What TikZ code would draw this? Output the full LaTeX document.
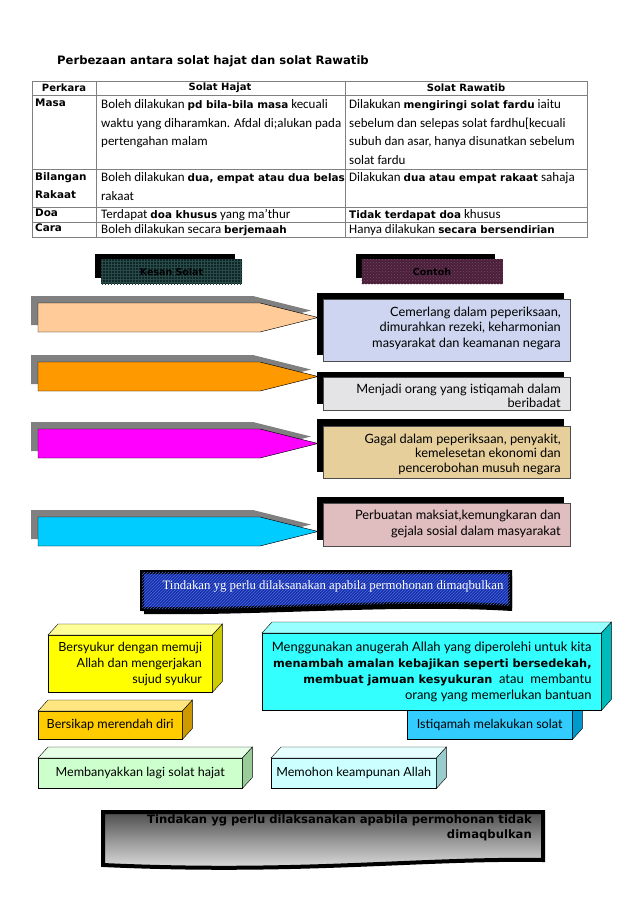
\documentclass[tikz,border=0pt]{standalone}
\usepackage{fontspec}
\setmainfont{Carlito}
\newfontfamily\tahoma{DejaVu Sans}
\newfontfamily\gill{Lato}
\newfontfamily\tnr{Liberation Serif}
\usetikzlibrary{patterns}

\definecolor{peachA}{HTML}{FFCC99}
\definecolor{orangeA}{HTML}{FF9900}
\definecolor{magentaA}{HTML}{FF00FF}
\definecolor{skyA}{HTML}{00CCFF}
\definecolor{shadowA}{HTML}{808080}
\definecolor{marbleA}{HTML}{CDD5F0}
\definecolor{marbleB}{HTML}{E4E4E6}
\definecolor{marbleC}{HTML}{E6CF9B}
\definecolor{marbleD}{HTML}{E0BDBF}
\definecolor{tealdark}{HTML}{0E2626}
\definecolor{tealgrid}{HTML}{2A4A4A}
\definecolor{maroonA}{HTML}{4A1F3A}
\definecolor{maroonB}{HTML}{7A4A68}
\definecolor{bannerblue}{HTML}{1530A8}
\definecolor{bannerline}{HTML}{4A68E0}
\definecolor{yellowF}{HTML}{FFFF00}
\definecolor{yellowT}{HTML}{FFFF99}
\definecolor{yellowS}{HTML}{CCCC00}
\definecolor{cyanF}{HTML}{33FFFF}
\definecolor{cyanT}{HTML}{99FFFF}
\definecolor{cyanS}{HTML}{00BBBB}
\definecolor{istiF}{HTML}{33CCFF}
\definecolor{istiT}{HTML}{99E6FF}
\definecolor{istiS}{HTML}{0099CC}
\definecolor{goldF}{HTML}{FFCC00}
\definecolor{goldT}{HTML}{FFE680}
\definecolor{goldS}{HTML}{CC9900}
\definecolor{mintF}{HTML}{CCFFCC}
\definecolor{mintT}{HTML}{E6FFE6}
\definecolor{mintS}{HTML}{99CC99}
\definecolor{iceF}{HTML}{CCFFFF}
\definecolor{iceT}{HTML}{E6FFFF}
\definecolor{iceS}{HTML}{99CCCC}

\newcommand{\hb}[1]{{\tahoma\bfseries\fontsize{10.4}{12}\selectfont #1}}
\newcommand{\kubus}[3]{%
  \filldraw[fill=#2, draw=black, thin] (#1.north west) -- ++(10,-11) -- ([shift={(10,-11)}]#1.north east) -- (#1.north east) -- cycle;
  \filldraw[fill=#3, draw=black, thin] (#1.north east) -- ++(10,-11) -- ([shift={(10,-11)}]#1.south east) -- (#1.south east) -- cycle;
}

\tikzset{
  cell/.style={anchor=north west, inner sep=0pt, align=left, font=\fontsize{13}{18.8}\selectfont},
  hd/.style={inner sep=0pt, font=\tahoma\bfseries\fontsize{10}{12}\selectfont},
  headbox/.style={minimum width=141, minimum height=25, inner sep=0pt, font=\tahoma\bfseries\fontsize{9.5}{10}\selectfont},
  contoh/.style={anchor=north west, draw=black!70, minimum width=247, inner sep=0pt},
  contohtext/.style={anchor=north east, inner sep=0pt, align=right, font=\gill\fontsize{12.8}{15.5}\selectfont},
  cube/.style={anchor=north west, draw=black, thin, inner sep=0pt, align=right, font=\gill\fontsize{12.6}{15.8}\selectfont},
}

\begin{document}
\begin{tikzpicture}[x=1pt, y=-1pt]
    \useasboundingbox (0,0) rectangle (638,903);

    % Title
    \node[anchor=west, inner sep=0pt, font=\tahoma\bfseries\fontsize{11.6}{13}\selectfont] (judul) at (57,61) {Perbezaan antara solat hajat dan solat Rawatib};

    % Table
    \draw[black!50, line width=0.9pt] (32,81) rectangle (587,237);
    \foreach \y in {95,169,207,222} \draw[black!50, line width=0.9pt] (32,\y) -- (587,\y);
    \foreach \x in {96,345} \draw[black!50, line width=0.9pt] (\x,81) -- (\x,237);

    \node[hd] (hPerkara) at (64,88) {Perkara};
    \node[hd] (hHajat) at (220,88) {Solat Hajat};
    \node[hd] (hRawatib) at (466,88) {Solat Rawatib};

    \node[cell] (masa) at (35,99) {\hb{Masa}};
    \node[cell] (masaH) at (101,99) {Boleh dilakukan \hb{pd bila-bila masa} kecuali\\waktu yang diharamkan. Afdal di;alukan pada\\pertengahan malam};
    \node[cell] (masaR) at (349,99) {Dilakukan \hb{mengiringi solat fardu} iaitu\\sebelum dan selepas solat fardhu[kecuali\\subuh dan asar, hanya disunatkan sebelum\\solat fardu};

    \node[cell] (bilangan) at (35,172) {\hb{Bilangan}\\\hb{Rakaat}};
    \node[cell] (bilanganH) at (101,172) {Boleh dilakukan \hb{dua, empat atau dua belas}\\rakaat};
    \node[cell] (bilanganR) at (349,172) {Dilakukan \hb{dua atau empat rakaat} sahaja};

    \node[cell] (doa) at (35,209) {\hb{Doa}};
    \node[cell] (doaH) at (101,209) {Terdapat \hb{doa khusus} yang ma'thur};
    \node[cell] (doaR) at (349,209) {\hb{Tidak terdapat doa} khusus};

    \node[cell] (cara) at (35,224) {\hb{Cara}};
    \node[cell] (caraH) at (101,224) {Boleh dilakukan secara \hb{berjemaah}};
    \node[cell] (caraR) at (349,224) {Hanya dilakukan \hb{secara bersendirian}};

    % Column heads
    \fill[black] (95,254) rectangle (235,278);
    \node[headbox, fill=tealdark, postaction={pattern=grid, pattern color=tealgrid}] (kesan) at (171.5,271.5) {Kesan Solat};
    \fill[black] (356,254) rectangle (495,278);
    \node[headbox, fill=maroonA, postaction={pattern=crosshatch dots, pattern color=maroonB}] (contohHead) at (432,271.5) {Contoh};

    % Arrows
    \foreach \yt/\col in {303/peachA, 362/orangeA, 429/magentaA, 517/skyA} {
        \fill[shadowA] (31,\yt-7) -- ++(222,0) -- ++(58,14.5) -- ++(-58,14.5) -- ++(-222,0) -- cycle;
        \filldraw[fill=\col, draw=black, thin] (38,\yt) -- ++(222,0) -- ++(58,14.5) -- ++(-58,14.5) -- ++(-222,0) -- cycle;
    }

    % Examples
    \fill[black] (317,293) rectangle (564,355);
    \node[contoh, fill=marbleA, minimum height=62] (contohA) at (323,299) {};
    \node[contohtext] (textA) at (561,306.5) {Cemerlang dalam peperiksaan,\\dimurahkan rezeki, keharmonian\\masyarakat dan keamanan negara};

    \fill[black] (317,372) rectangle (564,404);
    \node[contoh, fill=marbleB, minimum height=33] (contohB) at (323,377) {};
    \begin{scope}
        \clip (contohB.north west) rectangle (contohB.south east);
        \node[contohtext, font=\gill\fontsize{12.8}{14.5}\selectfont] (textB) at (561,383.5) {Menjadi orang yang istiqamah dalam\\beribadat};
    \end{scope}
    \draw[black!70] (contohB.north west) rectangle (contohB.south east);

    \fill[black] (317,419) rectangle (564,472);
    \node[contoh, fill=marbleC, minimum height=52] (contohC) at (323,426) {};
    \begin{scope}
        \clip (contohC.north west) rectangle (contohC.south east);
        \node[contohtext, font=\gill\fontsize{12.8}{14.5}\selectfont] (textC) at (561,433.5) {Gagal dalam peperiksaan, penyakit,\\kemelesetan ekonomi dan\\pencerobohan musuh negara};
    \end{scope}
    \draw[black!70] (contohC.north west) rectangle (contohC.south east);

    \fill[black] (317,497) rectangle (564,540);
    \node[contoh, fill=marbleD, minimum height=43] (contohD) at (323,503) {};
    \node[contohtext, font=\gill\fontsize{12.8}{16}\selectfont] (textD) at (561,509.5) {Perbuatan maksiat,kemungkaran dan\\gejala sosial dalam masyarakat};

    % Banner: dimaqbulkan
    \fill[black] (144,576) -- (512,576) -- (512,611) .. controls (400,604) and (260,616) .. (144,614) -- cycle;
    \filldraw[fill=bannerblue, draw=black, line width=4pt, postaction={pattern=north east lines, pattern color=bannerline}]
        (142,572) -- (510,572) -- (510,606) .. controls (400,599) and (260,611) .. (142,609) -- cycle;
    \node[inner sep=0pt, text=white, font=\tnr\fontsize{12.8}{14}\selectfont] (maqbul) at (333,586) {Tindakan yg perlu dilaksanakan apabila permohonan dimaqbulkan};

    % Actions
    \node[cube, fill=yellowF, minimum width=164, minimum height=57] (syukur) at (48,635) {Bersyukur dengan memuji\\Allah dan mengerjakan\\sujud syukur};
    \kubus{syukur}{yellowT}{yellowS}

    \node[cube, fill=istiF, minimum width=165, minimum height=29] (istiqamah) at (407,710) {Istiqamah melakukan solat};
    \kubus{istiqamah}{istiT}{istiS}

    \node[cube, fill=cyanF, minimum width=339, minimum height=77, font=\gill\fontsize{13}{15.8}\selectfont] (anugerah) at (262,633) {Menggunakan anugerah Allah yang diperolehi untuk kita\\{\tahoma\bfseries\fontsize{11.3}{12}\selectfont menambah amalan kebajikan seperti bersedekah,}\\{\tahoma\bfseries\fontsize{11.3}{12}\selectfont membuat jamuan kesyukuran}\ \ atau\ \ membantu\\orang yang memerlukan bantuan};
    \kubus{anugerah}{cyanT}{cyanS}

    \node[cube, fill=goldF, minimum width=144, minimum height=28] (rendah) at (38,711) {Bersikap merendah diri};
    \kubus{rendah}{goldT}{goldS}

    \node[cube, fill=mintF, minimum width=204, minimum height=30] (banyak) at (38,758) {Membanyakkan lagi solat hajat};
    \kubus{banyak}{mintT}{mintS}

    \node[cube, fill=iceF, minimum width=165, minimum height=30] (ampun) at (271,758) {Memohon keampunan Allah};
    \kubus{ampun}{iceT}{iceS}

    % Banner: tidak dimaqbulkan
    \path[top color=black!70, bottom color=black!8, middle color=black!38, draw=black, line width=4pt]
        (103,812) -- (543,812) -- (543,860) .. controls (420,858) and (300,874) .. (103,865) -- cycle;
    \node[anchor=north east, inner sep=0pt, align=right, text=black, font=\tahoma\bfseries\fontsize{11.6}{15.5}\selectfont] (tidak) at (532,814) {Tindakan yg perlu dilaksanakan apabila permohonan tidak\\dimaqbulkan};
\end{tikzpicture}
\end{document}
